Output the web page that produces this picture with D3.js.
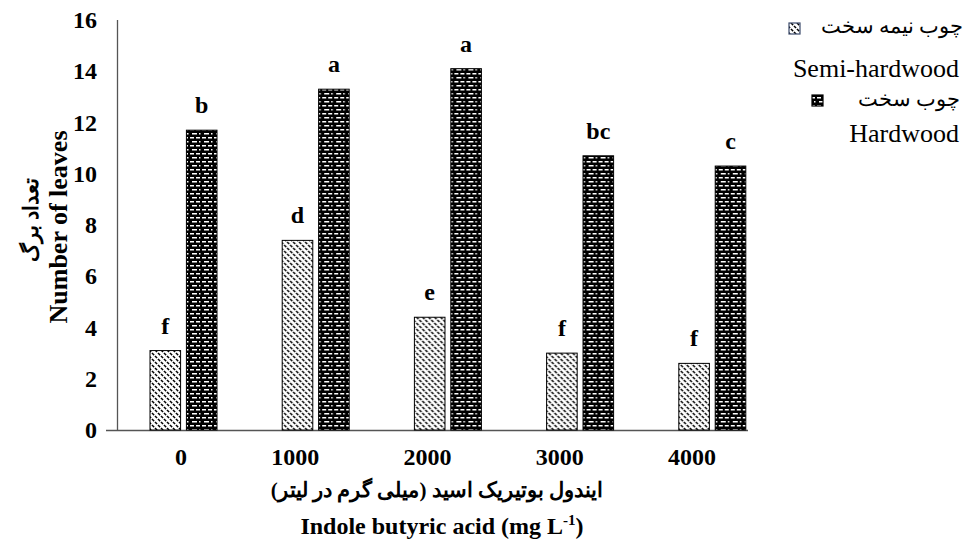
<!DOCTYPE html>
<html>
    <head>
        <meta charset="utf-8">
        <title>Number of leaves</title>
        <script src="https://d3js.org/d3.v7.min.js"></script>
        <style>
            body { margin: 0; background: #fff; }
        </style>
    </head>
    <body>
    </body>
    <script>
        var w = 963;
        var h = 545;
        var serif = "'Liberation Serif', 'Times New Roman', serif";

        // data
        var categories = ["0", "1000", "2000", "3000", "4000"];
        var series = ["semi", "hard"];
        var semiValues = [3.1, 7.4, 4.4, 3.0, 2.6];
        var hardValues = [11.7, 13.3, 14.1, 10.7, 10.3];
        var semiLetters = ["f", "d", "e", "f", "f"];
        var hardLetters = ["b", "a", "a", "bc", "c"];
        var yTicks = [0, 2, 4, 6, 8, 10, 12, 14, 16];

        var rows = categories.map(function(c, i){
            return {cat: c, vals: [
                {s: "semi", v: semiValues[i], l: semiLetters[i]},
                {s: "hard", v: hardValues[i], l: hardLetters[i]}
            ]};
        });

        var svg = d3.select("body")
                    .append("svg")
                    .attr("width", w)
                    .attr("height", h)
                    .style("font-family", serif);

        var defs = svg.append("defs");

        // semi-hardwood: white with dotted diagonal hatching
        var p1 = defs.append("pattern")
            .attr("id", "semiPat")
            .attr("patternUnits", "userSpaceOnUse")
            .attr("width", 6).attr("height", 6);
        p1.append("rect").attr("width", 6).attr("height", 6).attr("fill", "#fff");
        p1.append("path")
            .attr("d", "M-1,-1 L7,7 M-4,2 L2,8 M2,-4 L8,2")
            .attr("stroke", "#000")
            .attr("stroke-width", 1.5)
            .attr("stroke-dasharray", "3,1.2");

        // hardwood: black with white horizontal dashes
        var p2 = defs.append("pattern")
            .attr("id", "hardPat")
            .attr("patternUnits", "userSpaceOnUse")
            .attr("width", 12).attr("height", 8);
        p2.append("rect").attr("width", 12).attr("height", 8).attr("fill", "#000");
        p2.append("rect").attr("x", 1).attr("y", 1).attr("width", 4).attr("height", 1.5).attr("fill", "#fff");
        p2.append("rect").attr("x", 7).attr("y", 1).attr("width", 4).attr("height", 1.5).attr("fill", "#fff");
        p2.append("rect").attr("x", 3).attr("y", 5).attr("width", 5).attr("height", 1.5).attr("fill", "#fff");
        p2.append("rect").attr("x", 10).attr("y", 5).attr("width", 1.5).attr("height", 1.5).attr("fill", "#fff");

        function fillFor(s){ return s == "semi" ? "url(#semiPat)" : "url(#hardPat)"; }

        var x = d3.scaleBand()
            .domain(categories)
            .range([117, 778]);

        var xs = d3.scaleBand()
            .domain(series)
            .range([33, 100])
            .paddingInner(0.16);

        var y = d3.scaleLinear()
            .domain([0, 16])
            .range([430, 20]);

        // axes lines
        svg.append("line")
            .attr("x1", 117.5).attr("x2", 117.5)
            .attr("y1", y(16)).attr("y2", y(0))
            .attr("stroke", "#555").attr("stroke-width", 1.3);
        svg.append("line")
            .attr("x1", 106).attr("x2", 748)
            .attr("y1", y(0) + 0.5).attr("y2", y(0) + 0.5)
            .attr("stroke", "#555").attr("stroke-width", 1.3);

        // y tick labels
        var yAxis = svg.append("g")
            .attr("transform", "translate(97,0)")
            .call(d3.axisLeft(y).tickValues(yTicks).tickSize(0).tickPadding(0))
            .attr("font-family", serif)
            .attr("font-size", 24);
        yAxis.select(".domain").remove();
        yAxis.selectAll("text")
            .attr("font-weight", "bold")
            .attr("fill", "#000")
            .attr("dy", "0.32em");

        // x tick labels
        svg.selectAll("text.xt")
            .data(categories)
            .enter()
            .append("text")
            .attr("class", "xt")
            .text(function(d){ return d; })
            .attr("text-anchor", "end")
            .attr("x", function(d){ return x(d) + x.bandwidth()/2 + 4; })
            .attr("y", 465)
            .attr("font-size", 24)
            .attr("font-weight", "bold");

        var groups = svg.selectAll("g.grp")
            .data(rows)
            .enter()
            .append("g")
            .attr("class", "grp")
            .attr("transform", function(d){ return "translate(" + x(d.cat) + ",0)"; });

        groups.selectAll("rect")
            .data(function(d){ return d.vals; })
            .enter()
            .append("rect")
                .attr("x", function(d){ return xs(d.s); })
                .attr("y", function(d){ return y(d.v); })
                .attr("width", xs.bandwidth())
                .attr("height", function(d){ return y(0) - y(d.v); })
                .attr("fill", function(d){ return fillFor(d.s); })
                .attr("stroke", "#000")
                .attr("stroke-width", 1);

        groups.selectAll("text")
            .data(function(d){ return d.vals; })
            .enter()
            .append("text")
            .text(function(d){ return d.l; })
            .attr("text-anchor", "middle")
            .attr("x", function(d){ return xs(d.s) + xs.bandwidth()/2; })
            .attr("y", function(d){ return y(d.v) - 17; })
            .attr("font-size", 24)
            .attr("font-weight", "bold");

        // y axis titles
        svg.append("text")
            .text("تعداد برگ")
            .attr("transform", "translate(38,220) rotate(-90)")
            .attr("text-anchor", "middle")
            .attr("font-size", 21)
            .attr("font-weight", "bold");
        svg.append("text")
            .text("Number of leaves")
            .attr("transform", "translate(67,227) rotate(-90)")
            .attr("text-anchor", "middle")
            .attr("font-size", 26)
            .attr("font-weight", "bold");

        // x axis titles
        svg.append("text")
            .text("ایندول بوتیریک اسید (میلی گرم در لیتر)")
            .attr("x", 437).attr("y", 497)
            .attr("text-anchor", "middle")
            .attr("direction", "rtl")
            .attr("font-size", 21)
            .attr("font-weight", "bold");
        var xt = svg.append("text")
            .attr("x", 442).attr("y", 534)
            .attr("text-anchor", "middle")
            .attr("font-size", 24)
            .attr("font-weight", "bold");
        xt.append("tspan").text("Indole butyric acid (mg L");
        xt.append("tspan").text("-1").attr("font-size", 15).attr("dy", -9);
        xt.append("tspan").text(")").attr("dy", 9);

        // legend
        var legend = [
            {s: "semi", fa: "چوب نیمه سخت", en: "Semi-hardwood", fx: 963, fy: 33, ey: 77, bx: 789, by: 23},
            {s: "hard", fa: "چوب سخت", en: "Hardwood", fx: 960, fy: 106, ey: 142, bx: 812, by: 95}
        ];
        var lg = svg.selectAll("g.leg")
            .data(legend)
            .enter()
            .append("g")
            .attr("class", "leg");
        lg.append("rect")
            .attr("x", function(d){ return d.bx; })
            .attr("y", function(d){ return d.by; })
            .attr("width", 11).attr("height", 11)
            .attr("fill", function(d){ return fillFor(d.s); })
            .attr("stroke", function(d){ return d.s == "semi" ? "#3b4a6b" : "#000"; })
            .attr("stroke-width", 1.2);
        lg.append("text")
            .text(function(d){ return d.fa; })
            .attr("x", function(d){ return d.fx; })
            .attr("y", function(d){ return d.fy; })
            .attr("text-anchor", "end")
            .attr("font-size", 21);
        lg.append("text")
            .text(function(d){ return d.en; })
            .attr("x", 959)
            .attr("y", function(d){ return d.ey; })
            .attr("text-anchor", "end")
            .attr("font-size", 26);
    </script>
</html>
